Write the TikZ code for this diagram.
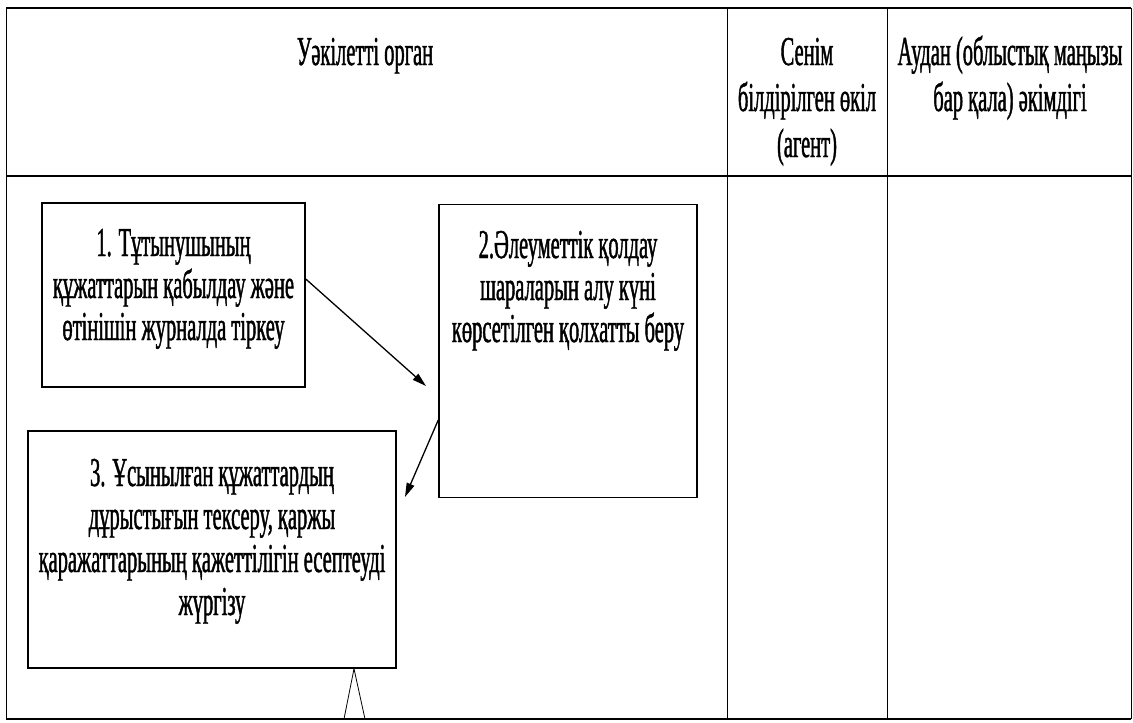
\documentclass[tikz,border=0pt]{standalone}
\usepackage{fontspec}
\setmainfont{Liberation Serif}[FakeStretch=0.50,FakeBold=1]
\usetikzlibrary{arrows.meta}
\begin{document}
\begin{tikzpicture}[x=1pt,y=-1pt,
  txt/.style={align=center,inner sep=0pt,anchor=base,font=\fontsize{41}{42}\selectfont},
  head/.style={txt,font=\fontsize{41}{46}\selectfont},
  stepbox/.style={draw,line width=1.5pt,inner sep=0pt},
  grid/.style={line width=0.8pt},
  thick rule/.style={line width=2.2pt},
  flow/.style={line width=1.3pt,-{Triangle[length=14pt,width=8pt]}}]
\useasboundingbox (0,0) rectangle (1133,723);
% table
\draw[thick rule] (6,8) -- (1131,8);
\draw[thick rule] (6,176) -- (1131,176);
\draw[thick rule] (6,719) -- (1131,719);
\draw[grid] (6,8) -- (6,719);
\draw[grid] (727,8) -- (727,719);
\draw[grid] (887,8) -- (887,719);
\draw[grid] (1131,8) -- (1131,719);
% headers (anchored at the baseline of their last line)
\node[head] (h1) at (365,65) {Уәкілетті орган};
\node[head] (h2) at (807,157) {Сенім\\білдірілген өкіл\\(агент)};
\node[head] (h3) at (1010,111) {Аудан (облыстық маңызы\\бар қала) әкімдігі};
% boxes
\node[stepbox,minimum width=263pt,minimum height=184pt] (b1) at (173.5,295) {};
\node[stepbox,minimum width=258pt,minimum height=293pt] (b2) at (568,351) {};
\node[stepbox,minimum width=368pt,minimum height=237pt] (b3) at (212,549.5) {};
\node[txt] (t1) at (173.5,340) {1. Тұтынушының\\құжаттарын қабылдау және\\өтінішін журналда тіркеу};
\node[txt] (t2) at (568,342) {2.Әлеуметтік қолдау\\шараларын алу күні\\көрсетілген қолхатты беру};
\node[txt,font=\fontsize{41}{43}\selectfont] (t3) at (212,615) {3. Ұсынылған құжаттардың\\дұрыстығын тексеру, қаржы\\қаражаттарының қажеттілігін есептеуді\\жүргізу};
% connectors
\coordinate (e1) at (426,386);
\coordinate (e2) at (405,497);
\coordinate (s1) at (b1.east |- 0,279);
\coordinate (s2) at (b2.west |- 0,420);
\draw[flow] (s1) -- (e1);
\draw[flow] (s2) -- (e2);
\coordinate (tip) at (b3.south -| 354,0);
\coordinate (bl) at (344,719);
\coordinate (br) at (365,719);
\draw[line width=0.8pt] (bl) -- (tip) -- (br);
\end{tikzpicture}
\end{document}
